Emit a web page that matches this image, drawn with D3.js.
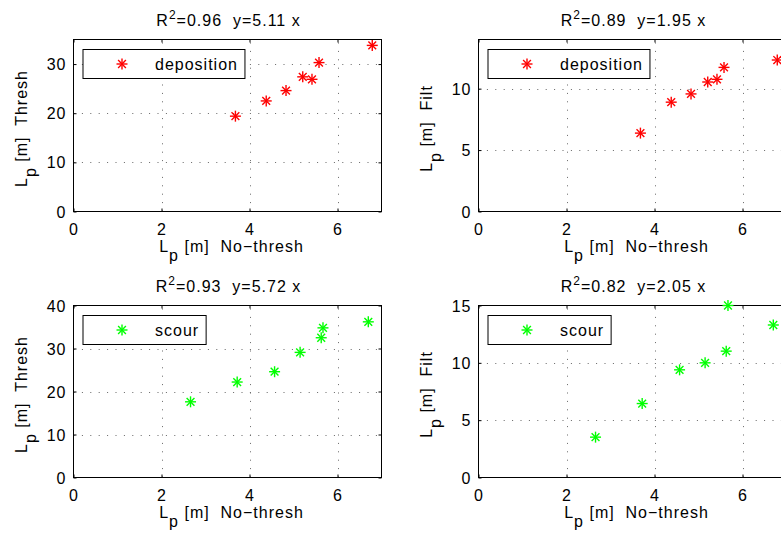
<!DOCTYPE html>
<html>
<head>
<meta charset="utf-8">
<script src="https://cdn.jsdelivr.net/npm/d3@7"></script>
<style>
  html, body { margin: 0; padding: 0; background: #fff; }
  svg text { font-family: "Liberation Sans", Arial, Helvetica, sans-serif; font-size: 16px; letter-spacing: 1px; white-space: pre; fill: #000; }
</style>
</head>
<body>
<svg id="chart" width="781" height="533"></svg>
<script>
// ---- data ----
const depNoThresh   = [3.68, 4.38, 4.83, 5.21, 5.42, 5.58, 6.79];
const depThresh     = [19.4, 22.5, 24.6, 27.4, 26.9, 30.3, 33.8];
const depFilt       = [6.38, 8.90, 9.57, 10.54, 10.76, 11.73, 12.33];
const scourNoThresh = [2.66, 3.72, 4.57, 5.15, 5.63, 5.67, 6.70];
const scourThresh   = [17.6, 22.2, 24.6, 29.1, 32.5, 34.8, 36.2];
const scourFilt     = [3.52, 6.45, 9.39, 10.0, 11.02, 15.0, 13.3];

const xTicks = [0, 2, 4, 6];
const panelNames   = ["depThresh", "depFilt", "scourThresh", "scourFilt"];
const panelYLabels = ["Thresh", "Filt", "Thresh", "Filt"];
const panelLegend  = ["deposition", "deposition", "scour", "scour"];
const panelR2      = ["0.96", "0.89", "0.93", "0.82"];
const panelSlope   = ["5.11", "1.95", "5.72", "2.05"];
const panelYMax    = [35, 14, 40, 15];
const panelYTicks  = [[0, 10, 20, 30], [0, 5, 10], [0, 10, 20, 30, 40], [0, 5, 10, 15]];
const panelColors  = ["#ff0000", "#ff0000", "#00ff00", "#00ff00"];
const panelX = [depNoThresh, depNoThresh, scourNoThresh, scourNoThresh];
const panelY = [depThresh, depFilt, scourThresh, scourFilt];

// ---- layout ----
const colLeft = [73.5, 478.5];
const axW = 308;
const rowTop = [39.5, 305.5];
const axH = 172;
const tickLen = 3;

const svg = d3.select("#chart");

panelNames.forEach((name, i) => {
  const col = i % 2, row = Math.floor(i / 2);
  const L = colLeft[col], T = rowTop[row], R = L + axW, B = T + axH;
  const x = d3.scaleLinear().domain([0, 7]).range([L, R]);
  const y = d3.scaleLinear().domain([0, panelYMax[i]]).range([B, T]);
  const g = svg.append("g").attr("class", name);

  // background
  g.append("rect").attr("x", L).attr("y", T).attr("width", axW).attr("height", axH).attr("fill", "#fff");

  // grid (sparse dotted)
  const grid = g.append("g").attr("stroke", "#666").attr("stroke-width", 1).attr("stroke-dasharray", "1,7.4");
  xTicks.forEach(t => {
    if (t === 0) return;
    grid.append("line").attr("x1", Math.round(x(t)) + 0.5).attr("x2", Math.round(x(t)) + 0.5).attr("y1", B).attr("y2", T);
  });
  panelYTicks[i].forEach(t => {
    if (t === 0 || t === panelYMax[i]) return;
    grid.append("line").attr("y1", Math.round(y(t)) + 0.5).attr("y2", Math.round(y(t)) + 0.5).attr("x1", L).attr("x2", R);
  });

  // axes with d3 axis generators (ticks inward)
  const axB = d3.axisBottom(x).tickValues(xTicks).tickSizeInner(-tickLen).tickSizeOuter(0).tickPadding(9).tickFormat(d3.format("d"));
  const axT = d3.axisTop(x).tickValues(xTicks).tickSizeInner(-tickLen).tickSizeOuter(0).tickFormat("");
  const axL = d3.axisLeft(y).tickValues(panelYTicks[i]).tickSizeInner(-tickLen).tickSizeOuter(0).tickPadding(7).tickFormat(d3.format("d"));
  const axR = d3.axisRight(y).tickValues(panelYTicks[i]).tickSizeInner(-tickLen).tickSizeOuter(0).tickFormat("");

  const styleAxis = sel => {
    sel.select(".domain").remove();
    sel.selectAll(".tick line").attr("stroke", "#000");
    sel.selectAll("text").attr("font-size", null).attr("font-family", null).attr("fill", "#000");
  };
  g.append("g").attr("transform", `translate(0,${B})`).call(axB).call(styleAxis)
    .selectAll("text").attr("dy", null).attr("y", 23.5).attr("dominant-baseline", null);
  g.append("g").attr("transform", `translate(0,${T})`).call(axT).call(styleAxis);
  g.append("g").attr("transform", `translate(${L},0)`).call(axL).call(styleAxis)
    .selectAll("text").attr("dy", "5.5px");
  g.append("g").attr("transform", `translate(${R},0)`).call(axR).call(styleAxis);

  // frame
  g.append("rect").attr("x", L).attr("y", T).attr("width", axW).attr("height", axH)
    .attr("fill", "none").attr("stroke", "#000").attr("stroke-width", 1);

  // asterisk marker
  const star = (sel, r) => {
    const d = r * Math.SQRT1_2;
    sel.append("line").attr("x1", -r).attr("x2", r).attr("y1", 0).attr("y2", 0);
    sel.append("line").attr("x1", 0).attr("x2", 0).attr("y1", -r).attr("y2", r);
    sel.append("line").attr("x1", -d).attr("x2", d).attr("y1", -d).attr("y2", d);
    sel.append("line").attr("x1", -d).attr("x2", d).attr("y1", d).attr("y2", -d);
  };

  // points
  const pts = panelX[i].map((xv, k) => [xv, panelY[i][k]]);
  g.append("g").attr("stroke", panelColors[i]).attr("stroke-width", 1.4)
    .selectAll("g").data(pts).join("g")
    .attr("transform", d => `translate(${x(d[0])},${y(d[1])})`)
    .each(function () { star(d3.select(this), 5.5); });

  // legend
  const lg = g.append("g");
  const lx = L + 9.5, ly = T + 10, lh = 29;
  const box = lg.append("rect").attr("x", lx).attr("y", ly).attr("height", lh)
    .attr("fill", "#fff").attr("stroke", "#000").attr("stroke-width", 1);
  lg.append("g").attr("stroke", panelColors[i]).attr("stroke-width", 1.4)
    .attr("transform", `translate(${lx + 39},${ly + lh / 2})`)
    .call(s => star(s, 5.5));
  const lt = lg.append("text").attr("x", lx + 72).attr("y", ly + lh / 2 + 5.5).text(panelLegend[i]);
  const tw = lt.node().getComputedTextLength();
  box.attr("width", 72 + tw + 7);

  // title
  const title = g.append("text").attr("x", (L + R) / 2 + 1).attr("y", T - 13.5).attr("text-anchor", "middle");
  title.append("tspan").text("R");
  title.append("tspan").attr("font-size", "12px").attr("dy", -7).text("2");
  title.append("tspan").attr("dy", 7).text(`=${panelR2[i]}  y=${panelSlope[i]} x`);

  // x label
  const xl = g.append("text").attr("x", (L + R) / 2 + 4).attr("y", B + 40).attr("text-anchor", "middle");
  xl.append("tspan").text("L");
  xl.append("tspan").attr("dy", 9).text("p");
  xl.append("tspan").attr("dy", -9).text(" [m]  No\u2212thresh");

  // y label
  const yl = g.append("text").attr("text-anchor", "middle")
    .attr("transform", `translate(${L - 47},${(T + B) / 2 + 3}) rotate(-90)`);
  yl.append("tspan").text("L");
  yl.append("tspan").attr("dy", 9).text("p");
  yl.append("tspan").attr("dy", -9).text(` [m]  ${panelYLabels[i]}`);
});
</script>
</body>
</html>
